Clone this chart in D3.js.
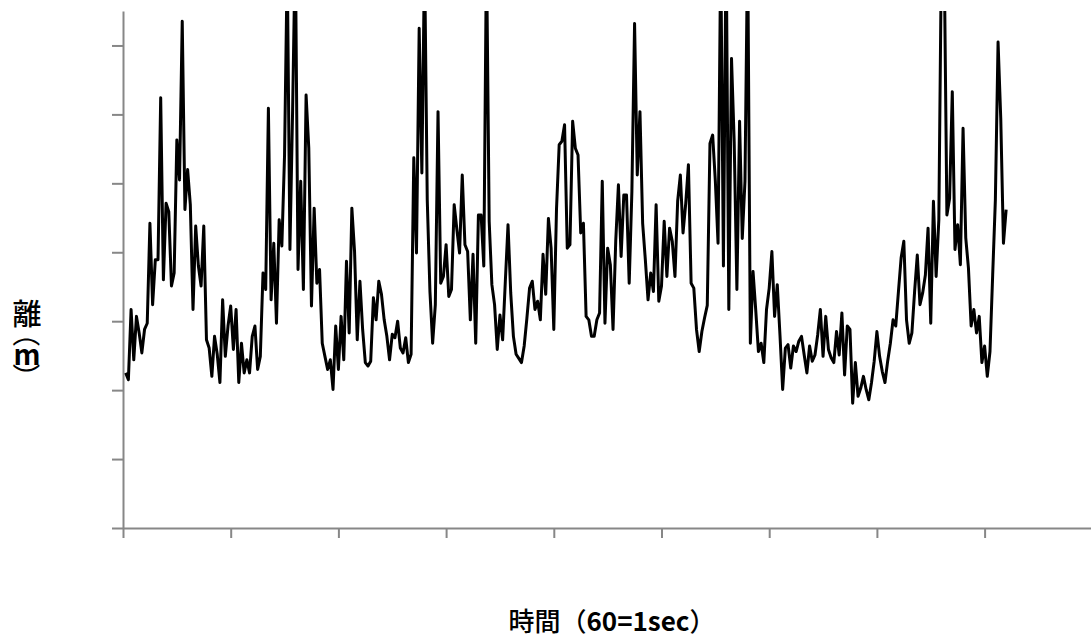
<!DOCTYPE html>
<html>
<head>
<meta charset="utf-8">
<script src="https://cdn.jsdelivr.net/npm/d3@7"></script>
<style>
  html, body { margin: 0; padding: 0; background: #ffffff; }
  svg { display: block; }
</style>
</head>
<body>
<svg id="chart" width="1091" height="641"></svg>
<script>
// Distance (m) sampled once per frame, starting at frame 1 (60 frames = 1 second)
const distance = [
  2.25,2.15,3.17,2.44,3.07,2.83,2.54,2.88,2.97,4.42,
  3.24,3.89,3.89,6.24,3.60,4.71,4.59,3.51,3.70,5.63,
  5.05,7.35,4.62,5.20,4.69,3.17,4.38,3.80,3.51,4.38,
  2.73,2.61,2.20,2.78,2.52,2.11,3.31,2.49,2.93,3.22,
  2.59,3.17,2.11,2.68,2.25,2.44,2.25,2.78,2.93,2.30,
  2.49,3.70,3.46,6.09,3.31,4.13,2.97,4.47,4.09,5.41,
  8.20,4.04,6.07,8.50,3.75,5.03,3.46,6.28,5.51,3.22,
  4.64,3.55,3.75,2.68,2.49,2.30,2.44,2.01,2.93,2.30,
  3.07,
  2.44,3.87,2.83,4.64,4.01,2.73,3.58,2.88,2.40,2.35,
  2.42,3.34,3.02,3.58,3.39,3.02,2.78,2.44,2.81,2.76,
  3.00,2.61,2.54,2.76,2.40,2.52,5.37,
  3.99,7.25,5.15,8.30,4.76,3.43,2.68,3.24,6.04,3.55,
  3.65,4.11,3.36,3.46,4.69,4.33,3.99,5.12,4.11,4.01,
  3.02,3.97,2.68,4.54,4.54,3.80,8.40,4.45,3.53,3.24,
  2.59,3.09,2.73,3.58,4.40,3.41,2.78,2.52,2.46,2.40,
  2.64,3.04,3.48,3.58,3.17,3.29,3.02,3.97,3.39,4.49,
  4.06,2.88,4.62,5.56,5.61,5.85,
  4.06,4.11,5.90,5.51,5.41,4.28,4.42,3.07,3.02,2.78,
  2.78,3.02,3.12,5.03,2.97,4.06,3.82,2.88,4.16,4.98,
  3.94,4.83,4.83,3.55,4.88,7.32,5.12,6.04,4.42,3.89,
  3.31,3.70,3.43,4.69,3.29,3.51,4.45,3.65,4.35,4.16,
  3.65,4.74,5.12,4.28,4.71,5.27,3.55,3.48,2.88,2.56,
  2.85,3.05,3.23,5.58,5.70,5.03,4.13,8.40,3.80,8.60,
  3.17,6.81,5.60,3.46,5.90,4.20,5.03,8.50,2.68,3.72,
  3.16,2.56,2.68,2.40,3.17,3.48,4.01,3.07,3.53,2.80,
  2.01,2.61,
  2.66,2.32,2.64,2.56,2.71,2.78,2.51,2.25,2.64,2.42,
  2.51,2.80,3.17,2.49,3.07,2.59,2.47,2.40,2.85,2.51,
  3.12,2.22,2.93,2.88,1.81,2.40,1.91,2.03,2.20,2.01,
  1.86,2.11,2.42,2.85,2.49,2.27,2.11,2.42,2.68,3.02,
  2.93,3.43,3.92,4.16,3.02,2.68,2.83,3.43,3.96,3.24,
  3.41,3.67,4.35,2.97,4.74,3.65,4.47,8.50,8.30,4.54,
  4.78,6.33,4.04,4.40,3.82,5.80,4.21,3.77,2.93,3.17,
  2.83,3.07,2.40,2.64,2.20,2.56,3.67,4.76,7.05,5.94,
  4.13,4.62
];
const firstFrame = 1;
const frames = distance.map((_, i) => firstFrame + i);

// Axis tick positions (no tick labels are shown)
const xTicks = [0, 40, 80, 120, 160, 200, 240, 280, 320, 360];
const yTicks = [0, 1, 2, 3, 4, 5, 6, 7];
const xDomain = [0, 360];
const yDomain = [0, 7.5];

const xTitle = ["時間", "（", "60=1sec", "）"];
const yTitle = ["離", "（", "m", "）"];

const svg = d3.select("#chart");
const axisColor = "#878787";
const fontStack = "'Noto Sans CJK JP', 'Noto Sans', sans-serif";

const x = d3.scaleLinear().domain(xDomain).range([123, 1092.3]);
const y = d3.scaleLinear().domain(yDomain).range([528, 11]);

// plot area clip so tall spikes stop at the top of the value axis
svg.append("defs").append("clipPath").attr("id", "plotClip")
  .append("rect")
  .attr("x", x(0)).attr("y", y(yDomain[1]))
  .attr("width", 1091 - x(0)).attr("height", y(0) - y(yDomain[1]));

// axes
const gx = svg.append("g")
  .attr("transform", `translate(0,${y(0)})`)
  .call(d3.axisBottom(x).tickValues(xTicks).tickSize(10).tickSizeOuter(0).tickFormat(""));
const gy = svg.append("g")
  .attr("transform", `translate(${x(0)},0)`)
  .call(d3.axisLeft(y).tickValues(yTicks).tickSize(11).tickSizeOuter(0).tickFormat(""));
[gx, gy].forEach(g => {
  g.selectAll("path.domain").attr("stroke", axisColor).attr("stroke-width", 2);
  g.selectAll(".tick line").attr("stroke", axisColor).attr("stroke-width", 2);
});

// distance trace
const line = d3.line()
  .x((d, i) => x(frames[i]))
  .y(d => y(d));
svg.append("path")
  .datum(distance)
  .attr("clip-path", "url(#plotClip)")
  .attr("d", line)
  .attr("fill", "none")
  .attr("stroke", "#000000")
  .attr("stroke-width", 3)
  .attr("stroke-linejoin", "round");

// x-axis title
const xt = svg.append("text")
  .attr("x", 612).attr("y", 631)
  .attr("text-anchor", "middle")
  .attr("font-family", fontStack)
  .attr("font-size", 26)
  .attr("fill", "#000");
xt.append("tspan").attr("font-weight", 500).text(xTitle[0]);
xt.append("tspan").attr("font-weight", 500).text(xTitle[1]);
xt.append("tspan").attr("font-weight", 700).text(xTitle[2]);
xt.append("tspan").attr("font-weight", 500).text(xTitle[3]);

// y-axis title, stacked vertically with the brackets turned sideways
const yg = svg.append("g")
  .attr("font-family", fontStack)
  .attr("fill", "#000")
  .attr("text-anchor", "middle");
yg.append("text").attr("x", 27).attr("y", 312).attr("dominant-baseline", "central")
  .attr("font-size", 29).attr("font-weight", 500).text(yTitle[0]);
yg.append("text").attr("transform", "translate(27,333) rotate(90)").attr("dominant-baseline", "central")
  .attr("font-size", 28).text(yTitle[1]);
yg.append("text").attr("x", 27).attr("y", 353).attr("dominant-baseline", "central")
  .attr("font-size", 28).attr("font-weight", 700).text(yTitle[2]);
yg.append("text").attr("transform", "translate(27,377) rotate(90)").attr("dominant-baseline", "central")
  .attr("font-size", 28).text(yTitle[3]);
</script>
</body>
</html>
